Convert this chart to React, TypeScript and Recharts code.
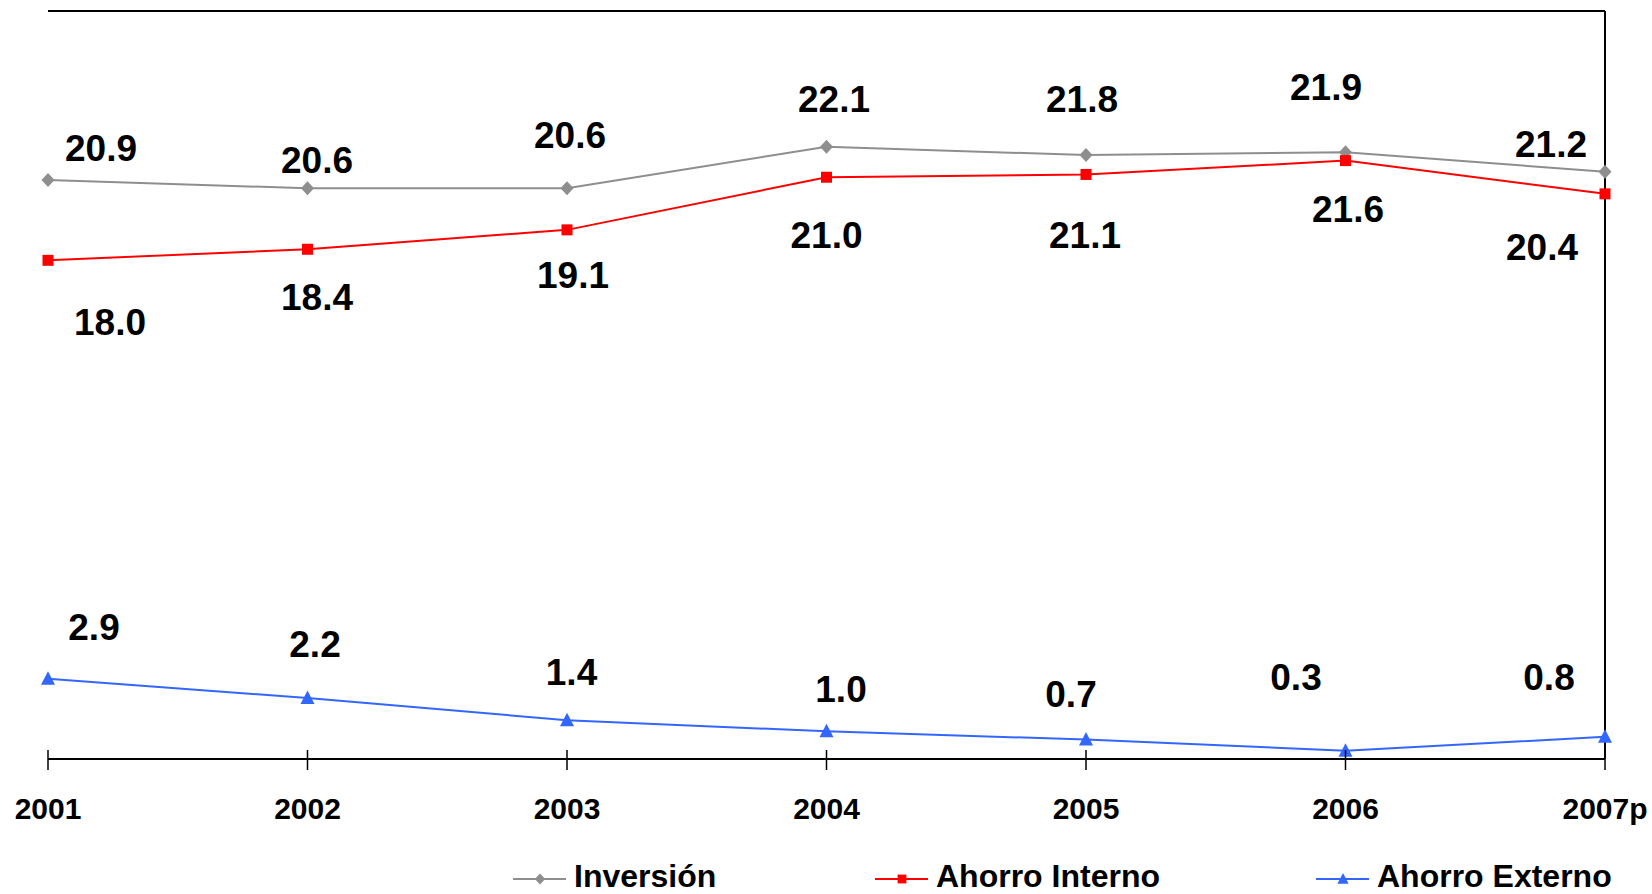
import React from 'react';
import {
  LineChart,
  Line,
  XAxis,
  YAxis,
  CartesianGrid,
  ReferenceLine,
  LabelList,
  Legend,
} from 'recharts';

// ---------- data ----------
const YEARS = ['2001', '2002', '2003', '2004', '2005', '2006', '2007p'];
const INVERSION = [20.9, 20.6, 20.6, 22.1, 21.8, 21.9, 21.2];
const AHORRO_INTERNO = [18.0, 18.4, 19.1, 21.0, 21.1, 21.6, 20.4];
const AHORRO_EXTERNO = [2.9, 2.2, 1.4, 1.0, 0.7, 0.3, 0.8];
const Y_TICKS = [0, 3, 6, 9, 12, 15, 18, 21, 24, 27];
const SERIES_NAMES = ['Inversión', 'Ahorro Interno', 'Ahorro Externo'];

// ---------- label placement (offset from point to text centre / baseline) ----------
const INV_LABEL_OFFSET = [[53, -19], [9.5, -15], [3, -40], [7.5, -35], [-4, -43], [-19.5, -52], [-54, -15]];
const INT_LABEL_OFFSET = [[62, 75], [9.5, 61], [6, 58], [0, 71], [-1, 73.5], [2.5, 61], [-63, 66]];
const EXT_LABEL_OFFSET = [[46, -39], [7.5, -41], [4.5, -35], [14.5, -29], [-15, -33], [-49.5, -61], [-56, -47]];
const LEGEND_X = [513, 875, 1316];

// ---------- style ----------
const FONT = '"Liberation Sans", Arial, Helvetica, sans-serif';
const GRAY = '#8E8E8E';
const RED = '#FF0000';
const BLUE = '#3366FF';

const data = YEARS.map((year, i) => ({
  year,
  inv: INVERSION[i],
  int: AHORRO_INTERNO[i],
  ext: AHORRO_EXTERNO[i],
}));

type Shape = 'diamond' | 'square' | 'triangle';

function Marker({ cx, cy, shape, color, s = 1 }: { cx: number; cy: number; shape: Shape; color: string; s?: number }) {
  if (shape === 'diamond') {
    const w = 6.5 * s, h = 7 * s;
    return <polygon points={`${cx},${cy - h} ${cx + w},${cy} ${cx},${cy + h} ${cx - w},${cy}`} fill={color} />;
  }
  if (shape === 'square') {
    const h = 5.5 * s;
    return <rect x={cx - h} y={cy - h} width={2 * h} height={2 * h} fill={color} />;
  }
  const w = 7 * s;
  return <polygon points={`${cx},${cy - 7.5 * s} ${cx + w},${cy + 6 * s} ${cx - w},${cy + 6 * s}`} fill={color} />;
}

const makeDot = (shape: Shape, color: string) => (p: any) => (
  <Marker key={`d-${shape}-${p.index}`} cx={p.cx} cy={p.cy} shape={shape} color={color} />
);

const makeLabel = (offsets: number[][]) => (p: any) => {
  const x = p.x ?? p.viewBox?.x;
  const y = p.y ?? p.viewBox?.y;
  const idx = p.index ?? 0;
  const [dx, dy] = offsets[idx] || [0, 0];
  const v = typeof p.value === 'number' ? p.value.toFixed(1) : p.value;
  return (
    <text
      key={`l-${idx}-${x}`}
      x={x + dx}
      y={y + dy}
      textAnchor="middle"
      fontFamily={FONT}
      fontWeight="bold"
      fontSize={37}
      fill="#000"
    >
      {v}
    </text>
  );
};

const XTick = (p: any) => {
  const { x, y, payload } = p;
  return (
    <g>
      <line x1={x} x2={x} y1={y - 9} y2={y + 11} stroke="#000" strokeWidth={1.5} />
      <text x={x} y={y + 60} textAnchor="middle" fontFamily={FONT} fontWeight="bold" fontSize={30} fill="#000">
        {payload.value}
      </text>
    </g>
  );
};

const SHAPES: Shape[] = ['diamond', 'square', 'triangle'];
const COLORS = [GRAY, RED, BLUE];

const LegendContent = () => (
  <svg width={1652} height={36} style={{ display: 'block' }}>
    {SERIES_NAMES.map((name, i) => {
      const x0 = LEGEND_X[i];
      return (
        <g key={name}>
          <line x1={x0} x2={x0 + 53} y1={21} y2={21} stroke={COLORS[i]} strokeWidth={2} />
          <Marker cx={x0 + 27} cy={21} shape={SHAPES[i]} color={COLORS[i]} s={0.8} />
          <text x={x0 + 61} y={29} fontFamily={FONT} fontWeight="bold" fontSize={32} fill="#000">
            {name}
          </text>
        </g>
      );
    })}
  </svg>
);

export default function App() {
  return (
    <div style={{ position: 'absolute', left: 0, top: 0, width: 1652, height: 894, overflow: 'hidden', background: '#fff' }}>
      <LineChart
        width={1652}
        height={894}
        data={data}
        margin={{ top: 11, right: 47, left: 48, bottom: 75 }}
      >
        <CartesianGrid horizontal vertical={false} stroke="#D2D2D2" strokeWidth={1.5} />
        <XAxis
          dataKey="year"
          type="category"
          scale="point"
          padding={{ left: 0, right: 0 }}
          height={60}
          axisLine={{ stroke: '#000', strokeWidth: 2 }}
          tickLine={false}
          tickSize={0}
          tickMargin={0}
          tick={<XTick />}
          interval={0}
        />
        <YAxis
          domain={[0, 27]}
          ticks={Y_TICKS}
          width={0}
          tick={false}
          tickLine={false}
          axisLine={{ stroke: '#000', strokeWidth: 2 }}
        />
        <ReferenceLine y={27} stroke="#000" strokeWidth={2} />
        <ReferenceLine x="2007p" stroke="#000" strokeWidth={2} />
        <Legend
          layout="horizontal"
          verticalAlign="middle"
          align="center"
          wrapperStyle={{ top: 858, left: 0, width: 1652, height: 36 }}
          content={<LegendContent />}
        />
        <Line
          name={SERIES_NAMES[0]}
          dataKey="inv"
          stroke={GRAY}
          strokeWidth={2}
          dot={makeDot('diamond', GRAY)}
          activeDot={false}
          isAnimationActive={false}
        >
          <LabelList dataKey="inv" content={makeLabel(INV_LABEL_OFFSET)} />
        </Line>
        <Line
          name={SERIES_NAMES[1]}
          dataKey="int"
          stroke={RED}
          strokeWidth={2}
          dot={makeDot('square', RED)}
          activeDot={false}
          isAnimationActive={false}
        >
          <LabelList dataKey="int" content={makeLabel(INT_LABEL_OFFSET)} />
        </Line>
        <Line
          name={SERIES_NAMES[2]}
          dataKey="ext"
          stroke={BLUE}
          strokeWidth={2}
          dot={makeDot('triangle', BLUE)}
          activeDot={false}
          isAnimationActive={false}
        >
          <LabelList dataKey="ext" content={makeLabel(EXT_LABEL_OFFSET)} />
        </Line>
      </LineChart>
    </div>
  );
}
